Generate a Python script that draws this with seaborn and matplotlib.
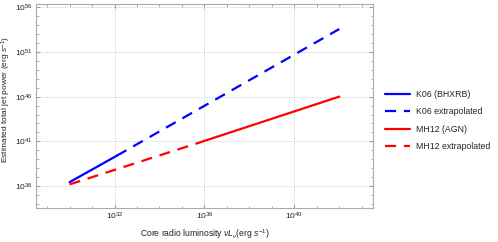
import numpy as np
import pandas as pd
import matplotlib
matplotlib.use("Agg")
import matplotlib.pyplot as plt
import matplotlib.ticker as mticker
import seaborn as sns

# log10 luminosity / power endpoints
k06_x = [30.0, 32.1]
k06_y = [36.45, 39.4]
k06_ext_x = [32.1, 42.0]
k06_ext_y = [39.4, 53.55]
mh12_x = [35.75, 42.0]
mh12_y = [40.85, 46.0]
mh12_ext_x = [30.0, 35.75]
mh12_ext_y = [36.2, 40.85]

series = [
    ("K06 (BHXRB)", k06_x, k06_y, "#0000ff", "-"),
    ("K06 extrapolated", k06_ext_x, k06_ext_y, "#0000ff", "--"),
    ("MH12 (AGN)", mh12_x, mh12_y, "#ff0000", "-"),
    ("MH12 extrapolated", mh12_ext_x, mh12_ext_y, "#ff0000", "--"),
]

sns.set_style("ticks")
plt.rcParams['font.family'] = ['Liberation Sans', 'DejaVu Sans']
plt.rcParams['mathtext.fontset'] = 'custom'
plt.rcParams['mathtext.rm'] = 'Liberation Sans'
plt.rcParams['mathtext.it'] = 'Liberation Sans:italic'

fig = plt.figure(figsize=(4.98, 2.42), dpi=100)
ax = fig.add_axes([0.072, 0.14, 0.677, 0.843])

for name, xs, ys, color, ls in series:
    df = pd.DataFrame({"x": np.power(10.0, xs), "y": np.power(10.0, ys)})
    sns.lineplot(data=df, x="x", y="y", ax=ax, color=color,
                 linewidth=1.6, label=name)
    if ls == "--":
        ax.lines[-1].set_dashes((5, 3.5))

ax.set_xscale("log")
ax.set_yscale("log")
ax.set_xlim(10**28.5, 10**43.5)
ax.set_ylim(10**33.55, 10**56.33)

ax.xaxis.set_major_locator(mticker.FixedLocator([1e32, 1e36, 1e40]))
ax.xaxis.set_minor_locator(mticker.FixedLocator([10.0**k for k in range(28, 45)]))
ax.yaxis.set_major_locator(mticker.FixedLocator([1e36, 1e41, 1e46, 1e51, 1e56]))
ax.yaxis.set_minor_locator(mticker.FixedLocator([10.0**k for k in range(33, 57)]))
ax.xaxis.set_major_formatter(mticker.LogFormatterSciNotation())
ax.yaxis.set_major_formatter(mticker.LogFormatterSciNotation())
ax.xaxis.set_minor_formatter(mticker.NullFormatter())
ax.yaxis.set_minor_formatter(mticker.NullFormatter())

ax.grid(True, which="major", linestyle=":", color="#c4c4c4", linewidth=0.7)
ax.tick_params(which="both", direction="in", top=True, right=True, colors="#a0a0a0",
               labelcolor="#222222", labelsize=6, pad=2)
ax.tick_params(which="major", length=3)
ax.tick_params(which="minor", length=1.8)
for sp in ax.spines.values():
    sp.set_color("#aaaaaa")
    sp.set_linewidth(0.8)

ax.set_xlabel(r"Core radio luminosity $\mathit{\nu L_{\nu}}$(erg $\mathit{s}^{-1}$)",
              fontsize=6.2, color="#222222", labelpad=4)
ax.set_ylabel(r"Estimated total jet power (erg $\mathit{s}^{-1}$)", fontsize=6,
              color="#222222")
ax.yaxis.set_label_coords(-0.067, 0.53)

ax.legend(loc="center left", bbox_to_anchor=(1.025, 0.43), frameon=False, fontsize=6.3,
          handlelength=2.9, handletextpad=0.6, labelspacing=0.97, borderaxespad=0)

fig.savefig("out.png", dpi=100)
